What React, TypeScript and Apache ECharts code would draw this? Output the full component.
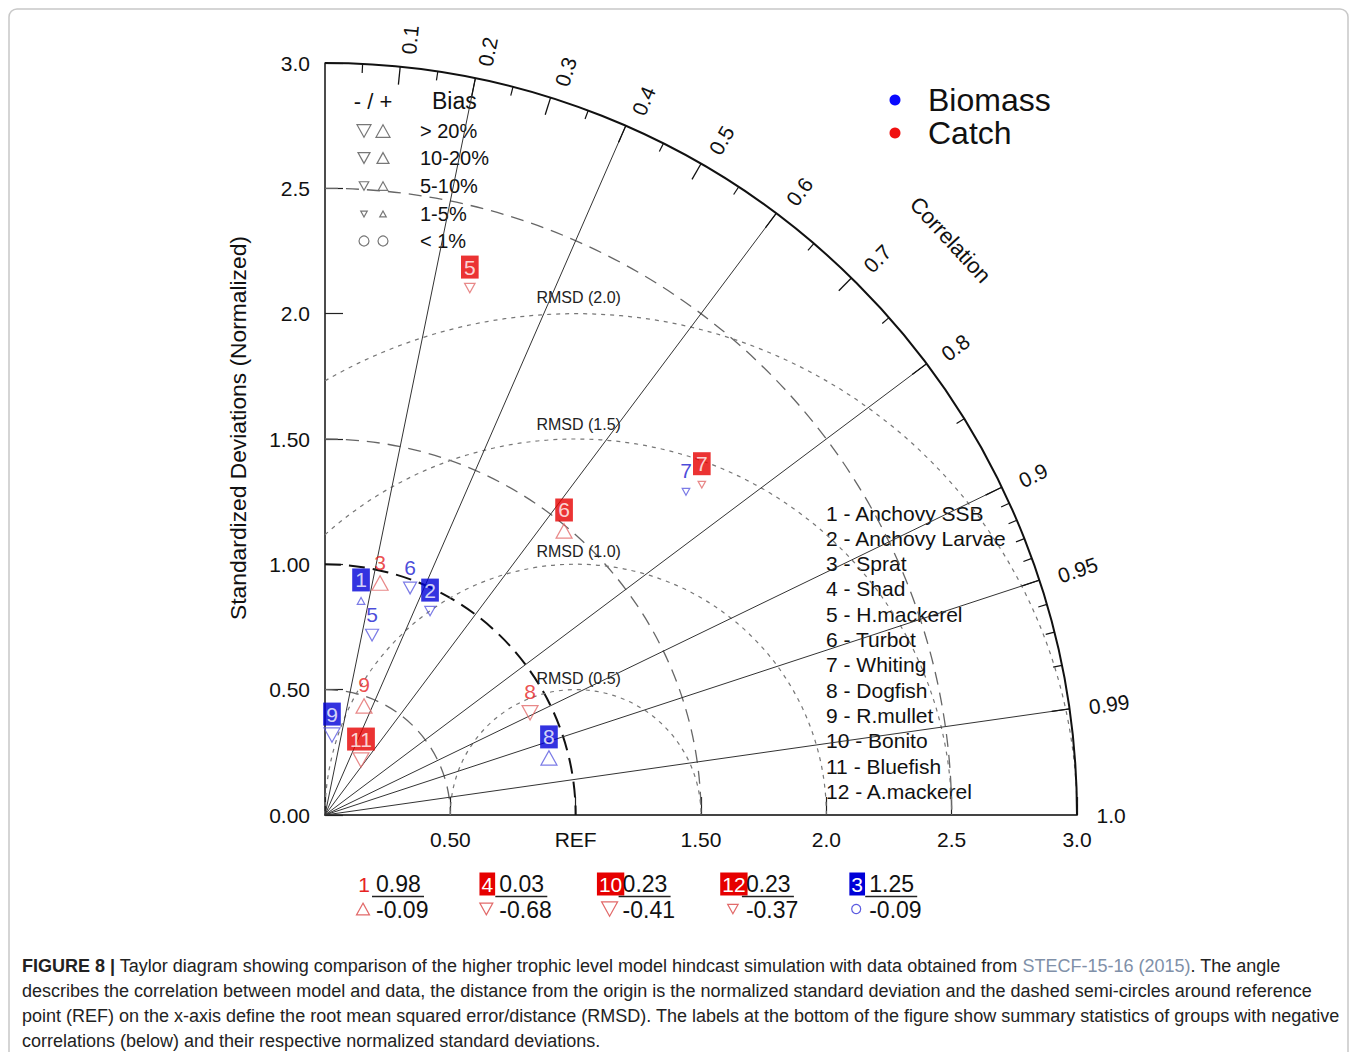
import React, { useEffect, useRef } from "react";
import * as echarts from "echarts";

// ---------------- data ----------------
const stdTicks = [0, 0.5, 1.0, 1.5, 2.0, 2.5, 3.0];
const yTickLabels = ["0.00", "0.50", "1.00", "1.50", "2.0", "2.5", "3.0"];
const xTickLabels = ["", "0.50", "REF", "1.50", "2.0", "2.5", "3.0"];
const corrLabelValues = [0.1, 0.2, 0.3, 0.4, 0.5, 0.6, 0.7, 0.8, 0.9, 0.95, 0.99, 1.0];
const corrLabelTexts = ["0.1", "0.2", "0.3", "0.4", "0.5", "0.6", "0.7", "0.8", "0.9", "0.95", "0.99", "1.0"];
const corrMinorTicks = [0.05, 0.15, 0.25, 0.35, 0.45, 0.55, 0.65, 0.75, 0.85, 0.91, 0.92, 0.93, 0.94, 0.96, 0.97, 0.98];
const corrRays = [0.2, 0.4, 0.6, 0.8, 0.9, 0.95, 0.99];
const stdArcs = [0.5, 1.0, 1.5, 2.5];
const rmsdRadii = [0.5, 1.0, 1.5, 2.0];
const rmsdLabels = ["RMSD (0.5)", "RMSD (1.0)", "RMSD (1.5)", "RMSD (2.0)"];

// bias class: sign = direction (+ up, - down); magnitude 1:<1%, 2:1-5%, 3:5-10%, 4:10-20%, 5:>20%
const biomassIds = [1, 2, 5, 6, 7, 8, 9];
const biomassStd = [0.866, 0.915, 0.742, 0.967, 1.933, 0.922, 0.32];
const biomassCorr = [0.166, 0.458, 0.253, 0.351, 0.745, 0.969, 0.087];
const biomassBoxed = [true, true, false, false, false, true, true];
const biomassBias = [2, -3, -4, -4, -2, 5, -5];

const catchIds = [3, 5, 6, 7, 8, 9, 11];
const catchStd = [0.951, 2.18, 1.481, 1.999, 0.914, 0.462, 0.262];
const catchCorr = [0.231, 0.265, 0.644, 0.752, 0.895, 0.337, 0.548];
const catchBoxed = [false, true, true, true, false, false, true];
const catchBias = [5, -3, 5, -2, -5, 5, -5];

// groups with negative correlation (summarised below the diagram)
const negIds = ["1", "4", "10", "12", "3"];
const negGroup = ["Catch", "Catch", "Catch", "Catch", "Biomass"];
const negBoxed = [false, true, true, true, true];
const negStd = ["0.98", "0.03", "0.23", "0.23", "1.25"];
const negCorr = ["-0.09", "-0.68", "-0.41", "-0.37", "-0.09"];
const negBias = [4, -4, -5, -3, 1];

const speciesNames = [
  "1 - Anchovy SSB", "2 - Anchovy Larvae", "3 - Sprat", "4 - Shad", "5 - H.mackerel", "6 - Turbot",
  "7 - Whiting", "8 - Dogfish", "9 - R.mullet", "10 - Bonito", "11 - Bluefish", "12 - A.mackerel",
];
const biasLegendLabels = ["> 20%", "10-20%", "5-10%", "1-5%", "< 1%"];
const groupNames = ["Biomass", "Catch"];

const captionLines = [
  "{b|FIGURE 8 |} Taylor diagram showing comparison of the higher trophic level model hindcast simulation with data obtained from {l|STECF-15-16 (2015)}. The angle",
  "describes the correlation between model and data, the distance from the origin is the normalized standard deviation and the dashed semi-circles around reference",
  "point (REF) on the x-axis define the root mean squared error/distance (RMSD). The labels at the bottom of the figure show summary statistics of groups with negative",
  "correlations (below) and their respective normalized standard deviations.",
];

// ---------------- styles ----------------
const FONT = "'Liberation Sans', Arial, Helvetica, sans-serif";
const TXT = "#111";
const COLORS: Record<string, { box: string; text: string; mark: string; dot: string }> = {
  Biomass: { box: "#0000d8", text: "#1a1ad0", mark: "#5a5ae0", dot: "#0a0aff" },
  Catch: { box: "#e60000", text: "#e62222", mark: "#e26a6a", dot: "#f01010" },
};
const biasSizes = [0, 9, 7.5, 10.5, 13, 16];
const legendBiasSizes = [14, 12, 9.5, 6.5];
const CAP = 18.0;

// ---------------- helpers ----------------
const tri = (cx: number, cy: number, s: number, up: boolean) => {
  const h = s * 0.9;
  return up
    ? [[cx, cy - h / 2], [cx + s / 2, cy + h / 2], [cx - s / 2, cy + h / 2]]
    : [[cx, cy + h / 2], [cx + s / 2, cy - h / 2], [cx - s / 2, cy - h / 2]];
};

const biasMark = (cx: number, cy: number, bias: number, size: number, color: string) => {
  if (Math.abs(bias) === 1) {
    return { type: "circle", shape: { cx, cy, r: size / 2 }, style: { fill: "none", stroke: color, lineWidth: 1.2 } };
  }
  return { type: "polygon", shape: { points: tri(cx, cy, size, bias > 0) }, style: { fill: "none", stroke: color, lineWidth: 1.2 } };
};

const mkData = (ids: number[], std: number[], corr: number[], boxed: boolean[], bias: number[], group: string) =>
  ids.map((id, i) => {
    const s = std[i];
    const c = corr[i];
    const cls = Math.abs(bias[i]);
    const sz = biasSizes[cls];
    const col = COLORS[group];
    return {
      value: [s * c, s * Math.sqrt(1 - c * c)],
      name: String(id),
      symbol: cls === 1 ? "circle" : "triangle",
      symbolSize: cls === 1 ? sz : [sz, sz * 0.9],
      symbolRotate: bias[i] < 0 ? 180 : 0,
      label: boxed[i]
        ? { backgroundColor: col.box, color: "#fff", padding: [2, 3, 1, 3] }
        : { color: col.text, padding: [2, 1, 1, 1] },
    };
  });

function renderFrame(params: any, api: any) {
  const o = api.coord([0, 0]);
  const unit = api.size([1, 0])[0];
  const pt = (s: number, c: number) => api.coord([s * c, s * Math.sqrt(Math.max(0, 1 - c * c))]);
  const R = 3;
  const ch: any[] = [];

  // std-dev arcs around origin
  stdArcs.forEach((r) => {
    const isRef = r === 1;
    ch.push({
      type: "arc",
      shape: { cx: o[0], cy: o[1], r: r * unit, startAngle: -Math.PI / 2, endAngle: 0, clockwise: true },
      style: { fill: "none", stroke: isRef ? "#111" : "#666", lineWidth: isRef ? 2 : 1.3, lineDash: isRef ? [16, 8] : [13, 8] },
    });
  });

  // RMSD circles around REF
  const ref = api.coord([1, 0]);
  rmsdRadii.forEach((rr, i) => {
    const phiMax = rr <= 1 ? Math.PI : Math.acos(-1 / rr);
    const k = (R * R - 1 - rr * rr) / (2 * rr);
    const phiMin = k < 1 ? Math.acos(k) : 0;
    ch.push({
      type: "arc",
      shape: { cx: ref[0], cy: ref[1], r: rr * unit, startAngle: -phiMax, endAngle: -phiMin, clockwise: true },
      style: { fill: "none", stroke: "#777", lineWidth: 1.2, lineDash: [4, 5] },
    });
    const lp = api.coord([1, rr]);
    ch.push({
      type: "text",
      x: lp[0] + 3,
      y: lp[1] - (10 + 3 * rr),
      style: {
        text: rmsdLabels[i], fill: "#222", fontSize: 16, fontFamily: FONT,
        align: "center", verticalAlign: "middle", textAlign: "center", textVerticalAlign: "middle",
      },
    });
  });

  // correlation rays
  corrRays.forEach((c) => {
    const p = pt(R, c);
    ch.push({ type: "line", shape: { x1: o[0], y1: o[1], x2: p[0], y2: p[1] }, style: { stroke: "#333", lineWidth: 1 } });
  });

  // outer arc
  ch.push({
    type: "arc",
    shape: { cx: o[0], cy: o[1], r: R * unit, startAngle: -Math.PI / 2, endAngle: 0, clockwise: true },
    style: { fill: "none", stroke: "#111", lineWidth: 2 },
  });

  // ticks
  corrLabelValues.forEach((c) => {
    if (c >= 1) return;
    const a = pt(R, c);
    const b = pt(R - 18 / unit, c);
    ch.push({ type: "line", shape: { x1: a[0], y1: a[1], x2: b[0], y2: b[1] }, style: { stroke: "#111", lineWidth: 1.3 } });
  });
  corrMinorTicks.forEach((c) => {
    const a = pt(R, c);
    const b = pt(R - 9 / unit, c);
    ch.push({ type: "line", shape: { x1: a[0], y1: a[1], x2: b[0], y2: b[1] }, style: { stroke: "#111", lineWidth: 1.2 } });
  });

  // correlation labels
  corrLabelValues.forEach((c, i) => {
    const p = pt(3.05, c);
    ch.push({
      type: "text",
      x: p[0] + 7,
      y: p[1],
      rotation: Math.acos(c),
      style: {
        text: corrLabelTexts[i], fill: TXT, fontSize: 21, fontFamily: FONT,
        align: "left", verticalAlign: "middle", textAlign: "left", textVerticalAlign: "middle",
      },
    });
  });

  const cp = pt(3.39, 0.736);
  ch.push({
    type: "text",
    x: cp[0],
    y: cp[1],
    rotation: Math.acos(0.736) - Math.PI / 2,
    style: {
      text: "Correlation", fill: TXT, fontSize: 22, fontFamily: FONT,
      align: "center", verticalAlign: "middle", textAlign: "center", textVerticalAlign: "middle",
    },
  });

  return { type: "group", children: ch };
}

// page coords -> chart coords (body margin 8)
const P = (v: number) => v - 8;

function buildGraphic() {
  const els: any[] = [];
  // figure border
  els.push({
    type: "rect",
    shape: { x: 1, y: 1, width: 1339, height: 1060, r: 8 },
    style: { fill: "none", stroke: "#c8c8c8", lineWidth: 1.5 },
    silent: true,
  });

  // y-axis title
  els.push({
    type: "text",
    x: P(238),
    y: P(428),
    rotation: Math.PI / 2,
    style: {
      text: "Standardized Deviations (Normalized)", fill: TXT, fontSize: 22.8, fontFamily: FONT,
      align: "center", verticalAlign: "middle", textAlign: "center", textVerticalAlign: "middle",
    },
  });

  // group legend (Biomass / Catch)
  const legY = [100, 133];
  groupNames.forEach((g, i) => {
    els.push({ type: "circle", shape: { cx: P(895), cy: P(legY[i]), r: 5.5 }, style: { fill: COLORS[g].dot } });
    els.push({
      type: "text", x: P(928), y: P(legY[i]),
      style: { text: g, fill: TXT, fontSize: 32, fontFamily: FONT, align: "left", verticalAlign: "middle", textAlign: "left", textVerticalAlign: "middle" },
    });
  });

  // bias legend
  els.push({
    type: "text", x: P(373), y: P(101),
    style: { text: "- / +", fill: TXT, fontSize: 22, fontFamily: FONT, align: "center", verticalAlign: "middle", textAlign: "center", textVerticalAlign: "middle" },
  });
  els.push({
    type: "text", x: P(432), y: P(101),
    style: { text: "Bias", fill: TXT, fontSize: 23, fontFamily: FONT, align: "left", verticalAlign: "middle", textAlign: "left", textVerticalAlign: "middle" },
  });
  const rowY = [131, 158, 186, 214, 241];
  biasLegendLabels.forEach((lab, i) => {
    const y = P(rowY[i]);
    if (i < 4) {
      const s = legendBiasSizes[i];
      els.push(biasMark(P(364), y, -2, s, "#777"));
      els.push(biasMark(P(383), y, 2, s, "#777"));
    } else {
      els.push(biasMark(P(364), y, 1, 10, "#777"));
      els.push(biasMark(P(383), y, 1, 10, "#777"));
    }
    els.push({
      type: "text", x: P(420), y,
      style: { text: lab, fill: TXT, fontSize: 20, fontFamily: FONT, align: "left", verticalAlign: "middle", textAlign: "left", textVerticalAlign: "middle" },
    });
  });

  // species list
  speciesNames.forEach((nm, i) => {
    els.push({
      type: "text", x: P(826), y: P(513 + i * 25.3),
      style: { text: nm, fill: TXT, fontSize: 21, fontFamily: FONT, align: "left", verticalAlign: "middle", textAlign: "left", textVerticalAlign: "middle" },
    });
  });

  // negative correlation summaries
  negIds.forEach((id, i) => {
    const x0 = P(364 + 123.3 * i);
    const col = COLORS[negGroup[i]];
    const boxed = negBoxed[i];
    els.push({
      type: "text", x: x0, y: P(884),
      style: {
        text: id, fontSize: 21, fontFamily: FONT,
        fill: boxed ? "#fff" : col.text,
        backgroundColor: boxed ? col.box : "transparent",
        padding: boxed ? [2, 2, 0, 2] : 0,
        align: "center", verticalAlign: "middle", textAlign: "center", textVerticalAlign: "middle",
      },
    });
    const cls = Math.abs(negBias[i]);
    els.push(biasMark(x0 - 1, P(909), negBias[i], cls === 1 ? 9 : biasSizes[cls], col.mark));
    const vx = x0 + 12;
    els.push({
      type: "text", x: vx, y: P(884),
      style: { text: negStd[i], fill: TXT, fontSize: 23, fontFamily: FONT, align: "left", verticalAlign: "middle", textAlign: "left", textVerticalAlign: "middle" },
    });
    els.push({ type: "line", shape: { x1: vx - 4, y1: P(896.5), x2: vx + 48, y2: P(896.5) }, style: { stroke: "#222", lineWidth: 1.3 } });
    els.push({
      type: "text", x: vx, y: P(910),
      style: { text: negCorr[i], fill: TXT, fontSize: 23, fontFamily: FONT, align: "left", verticalAlign: "middle", textAlign: "left", textVerticalAlign: "middle" },
    });
  });

  // caption
  captionLines.forEach((ln, i) => {
    els.push({
      type: "text", x: P(22), y: P(966 + i * 25),
      style: {
        text: ln, fill: "#222", fontSize: CAP, fontFamily: FONT,
        align: "left", verticalAlign: "middle", textAlign: "left", textVerticalAlign: "middle",
        rich: {
          b: { fontWeight: "bold", fontSize: CAP, fontFamily: FONT, fill: "#222", color: "#222" },
          l: { fill: "#8090a8", color: "#8090a8", fontSize: CAP, fontFamily: FONT },
        },
      },
    });
  });
  return els;
}

function buildOption(): any {
  const scatterSeries = (name: string, data: any[]) => ({
    type: "scatter",
    name,
    data,
    z: 5,
    silent: true,
    itemStyle: { color: "rgba(0,0,0,0)", borderColor: COLORS[name].mark, borderWidth: 1.2 },
    label: {
      show: true,
      position: "inside",
      offset: [0, -21],
      formatter: (p: any) => p.name,
      fontSize: 21,
      lineHeight: 20,
      fontFamily: FONT,
    },
    emphasis: { disabled: true },
  });

  return {
    animation: false,
    backgroundColor: "#fff",
    grid: { left: P(325), top: P(63), width: 752, height: 752, containLabel: false },
    xAxis: {
      type: "value", min: 0, max: 3, interval: 0.5,
      axisLine: { show: true, lineStyle: { color: "#444", width: 2 } },
      axisTick: { show: true, inside: true, length: 18, lineStyle: { color: "#222", width: 1.2 } },
      axisLabel: {
        fontSize: 21, color: TXT, fontFamily: FONT, margin: 14,
        formatter: (v: number) => xTickLabels[stdTicks.indexOf(Math.round(v * 2) / 2)] ?? "",
      },
      splitLine: { show: false },
    },
    yAxis: {
      type: "value", min: 0, max: 3, interval: 0.5,
      axisLine: { show: true, lineStyle: { color: "#111", width: 1.5 } },
      axisTick: { show: true, inside: true, length: 18, lineStyle: { color: "#222", width: 1.2 } },
      axisLabel: {
        fontSize: 21, color: TXT, fontFamily: FONT, margin: 15,
        formatter: (v: number) => yTickLabels[stdTicks.indexOf(Math.round(v * 2) / 2)] ?? "",
      },
      splitLine: { show: false },
    },
    series: [
      { type: "custom", name: "frame", coordinateSystem: "cartesian2d", data: [[0, 0]], renderItem: renderFrame, silent: true, z: 1, clip: false },
      scatterSeries("Biomass", mkData(biomassIds, biomassStd, biomassCorr, biomassBoxed, biomassBias, "Biomass")),
      scatterSeries("Catch", mkData(catchIds, catchStd, catchCorr, catchBoxed, catchBias, "Catch")),
    ],
    graphic: buildGraphic(),
  };
}

export default function App() {
  const ref = useRef<HTMLDivElement>(null);
  useEffect(() => {
    const chart = echarts.init(ref.current!, null, { renderer: "svg" });
    chart.setOption(buildOption());
    return () => chart.dispose();
  }, []);
  return <div ref={ref} style={{ width: 1342, height: 1044 }} />;
}
